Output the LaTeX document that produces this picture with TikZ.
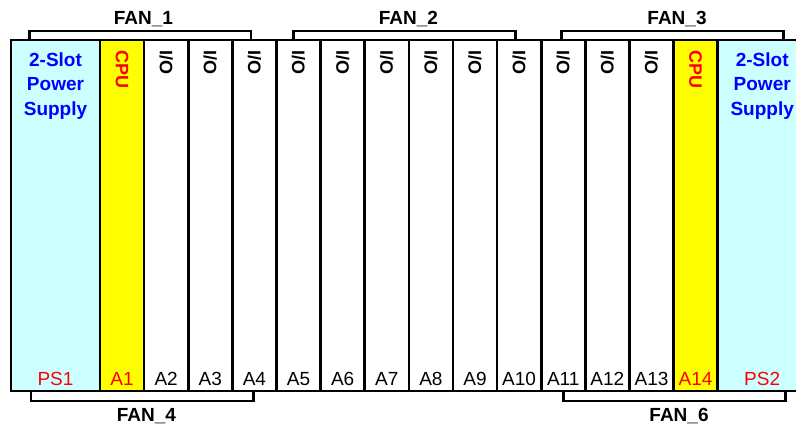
\documentclass[tikz,border=0pt]{standalone}
\usepackage{fontspec}
\setmainfont{Liberation Sans}
\definecolor{pscyan}{HTML}{CCFFFF}
\definecolor{cpuyellow}{HTML}{FFFF00}
\definecolor{lblred}{HTML}{FF0000}
\definecolor{lblblue}{HTML}{0000FF}
\tikzset{
  slot/.style={draw=black, line width=2.6pt, outer sep=0pt, inner sep=0pt,
    minimum height=351pt, anchor=north west},
  ioslot/.style={slot, fill=white, minimum width=44.12pt},
  cpuslot/.style={slot, fill=cpuyellow, minimum width=44.12pt},
  psslot/.style={slot, fill=pscyan, minimum width=89pt},
  vtext/.style={rotate=-90, anchor=west, inner sep=0pt, font=\fontsize{18}{18}\selectfont\bfseries},
  iotext/.style={vtext, text=black},
  cputext/.style={vtext, text=lblred},
  pstext/.style={align=center, anchor=north, inner sep=0pt, text=lblblue,
    font=\fontsize{19}{24.5}\selectfont\bfseries},
  slotlbl/.style={anchor=base, inner sep=0pt, font=\fontsize{19}{19}\selectfont},
  fanlbl/.style={anchor=base, inner sep=0pt, font=\fontsize{19}{19}\selectfont\bfseries},
  bracket/.style={draw=black, line width=2.6pt, line join=miter}
}
\begin{document}
\begin{tikzpicture}[x=1pt, y=-1pt]
\clip (0,0) rectangle (796,426);
\fill[white] (0,0) rectangle (796,426);
% power supplies
\node[psslot] (ps1) at (11,40) {};
\node[psslot] (ps2) at (717.7,40) {};
% slots A1..A14
\foreach \i in {1,...,14}{
  \pgfmathsetmacro{\xx}{100+44.12*(\i-1)}
  \ifnum\i=1
    \node[cpuslot] (a\i) at (\xx,40) {};
  \else\ifnum\i=14
    \node[cpuslot] (a\i) at (\xx,40) {};
  \else
    \node[ioslot] (a\i) at (\xx,40) {};
  \fi\fi
}
% vertical texts
\foreach \i in {2,...,13}{
  \node[iotext] (io\i) at ([yshift=-10pt]a\i.north) {I/O};
}
\node[cputext] (cpu1) at ([yshift=-10pt]a1.north) {CPU};
\node[cputext] (cpu14) at ([yshift=-10pt]a14.north) {CPU};
% power supply texts
\node[pstext] (pst1) at ([yshift=-12.5pt]ps1.north) {2-Slot\\Power\\Supply};
\node[pstext] (pst2) at ([yshift=-12.5pt]ps2.north) {2-Slot\\Power\\Supply};
% slot labels
\node[slotlbl, text=lblred] (lps1) at ([yshift=5.5pt]ps1.south) {PS1};
\node[slotlbl, text=lblred] (lps2) at ([yshift=5.5pt]ps2.south) {PS2};
\node[slotlbl, text=lblred] (la1) at ([yshift=5.5pt]a1.south) {A1};
\node[slotlbl, text=lblred] (la14) at ([yshift=5.5pt]a14.south) {A14};
\foreach \i in {2,...,13}{
  \node[slotlbl] (la\i) at ([yshift=5.5pt]a\i.south) {A\i};
}
% fan brackets (top)
\coordinate (f1l) at (29.5,40);  \coordinate (f1r) at (251,40);
\coordinate (f2l) at (293.5,40); \coordinate (f2r) at (515.5,40);
\coordinate (f3l) at (561.5,40); \coordinate (f3r) at (783.5,40);
\draw[bracket] (f1l) -- ++(0,-9) -| (f1r);
\draw[bracket] (f2l) -- ++(0,-9) -| (f2r);
\draw[bracket] (f3l) -- ++(0,-9) -| (f3r);
% fan brackets (bottom)
\coordinate (f4l) at (31,391);  \coordinate (f4r) at (253.5,391);
\coordinate (f6l) at (563.5,391); \coordinate (f6r) at (785.5,391);
\draw[bracket] (f4l) -- ++(0,10) -| (f4r);
\draw[bracket] (f6l) -- ++(0,10) -| (f6r);
% fan labels
\node[fanlbl] (fan1) at (143.5,24) {FAN\_1};
\node[fanlbl] (fan2) at (408.5,24) {FAN\_2};
\node[fanlbl] (fan3) at (677,24) {FAN\_3};
\node[fanlbl] (fan4) at (146.5,421.5) {FAN\_4};
\node[fanlbl] (fan6) at (679,421.5) {FAN\_6};
\end{tikzpicture}
\end{document}
